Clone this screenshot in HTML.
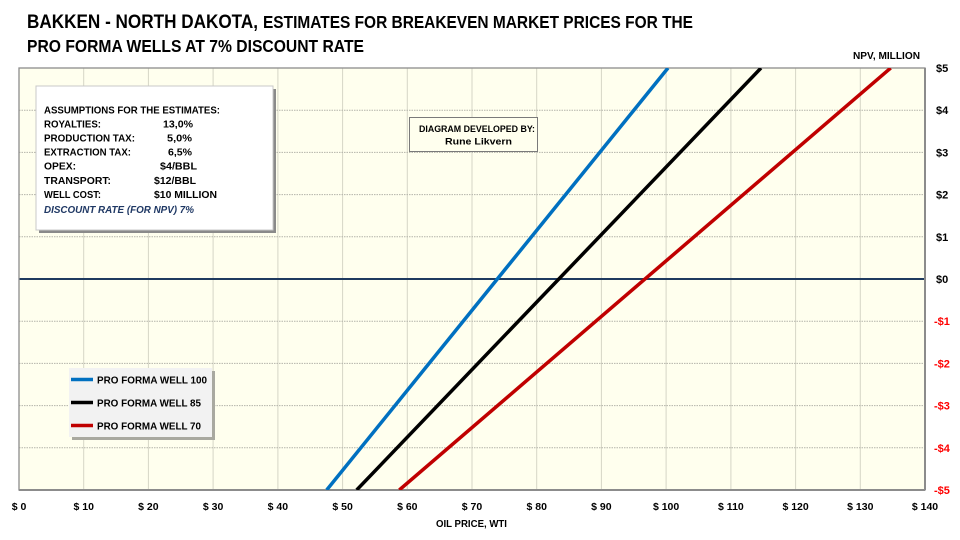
<!DOCTYPE html>
<html>
<head>
<meta charset="utf-8">
<style>
  html,body{margin:0;padding:0;background:#fff;}
  svg{display:block;}
  text{font-family:"Liberation Sans",Arial,sans-serif;font-weight:bold;}
</style>
</head>
<body>
<svg width="960" height="540" viewBox="0 0 960 540" xmlns="http://www.w3.org/2000/svg">
  <rect x="0" y="0" width="960" height="540" fill="#ffffff"/>
  <!-- Title -->
  <text x="27" y="28" font-size="19.5" fill="#000" textLength="231" lengthAdjust="spacingAndGlyphs">BAKKEN - NORTH DAKOTA,</text>
  <text x="263" y="28" font-size="17.5" fill="#000" textLength="430" lengthAdjust="spacingAndGlyphs">ESTIMATES FOR BREAKEVEN MARKET PRICES FOR THE</text>
  <text x="27" y="52" font-size="17.5" fill="#000" textLength="337" lengthAdjust="spacingAndGlyphs">PRO FORMA WELLS AT 7% DISCOUNT RATE</text>

  <!-- Plot area -->
  <rect x="19" y="68" width="906" height="422" fill="#ffffee"/>
  <!-- vertical grid -->
  <g stroke="#d6d6c6" stroke-width="1">
    <line x1="83.7" y1="68" x2="83.7" y2="490"/>
    <line x1="148.4" y1="68" x2="148.4" y2="490"/>
    <line x1="213.1" y1="68" x2="213.1" y2="490"/>
    <line x1="277.9" y1="68" x2="277.9" y2="490"/>
    <line x1="342.6" y1="68" x2="342.6" y2="490"/>
    <line x1="407.3" y1="68" x2="407.3" y2="490"/>
    <line x1="472" y1="68" x2="472" y2="490"/>
    <line x1="536.7" y1="68" x2="536.7" y2="490"/>
    <line x1="601.4" y1="68" x2="601.4" y2="490"/>
    <line x1="666.1" y1="68" x2="666.1" y2="490"/>
    <line x1="730.9" y1="68" x2="730.9" y2="490"/>
    <line x1="795.6" y1="68" x2="795.6" y2="490"/>
    <line x1="860.3" y1="68" x2="860.3" y2="490"/>
  </g>
  <!-- horizontal dotted grid -->
  <g stroke="#b4b4aa" stroke-width="1" stroke-dasharray="1.5,1">
    <line x1="19" y1="110.2" x2="925" y2="110.2"/>
    <line x1="19" y1="152.4" x2="925" y2="152.4"/>
    <line x1="19" y1="194.6" x2="925" y2="194.6"/>
    <line x1="19" y1="236.8" x2="925" y2="236.8"/>
    <line x1="19" y1="321.2" x2="925" y2="321.2"/>
    <line x1="19" y1="363.4" x2="925" y2="363.4"/>
    <line x1="19" y1="405.6" x2="925" y2="405.6"/>
    <line x1="19" y1="447.8" x2="925" y2="447.8"/>
  </g>
  <!-- zero line -->
  <line x1="19" y1="279" x2="925" y2="279" stroke="#1f3a5f" stroke-width="2"/>
  <!-- border -->
  <rect x="19" y="68" width="906" height="422" fill="none" stroke="#8c8c8c" stroke-width="1.3"/>
  <line x1="19" y1="490" x2="925" y2="490" stroke="#8c8c8c" stroke-width="2"/>
  <line x1="925" y1="68" x2="925" y2="490" stroke="#8c8c8c" stroke-width="2"/>

  <!-- series -->
  <g stroke-width="3.5" stroke-linecap="butt" fill="none" clip-path="url(#pc)">
    <line x1="326.7" y1="490" x2="668" y2="68" stroke="#0070c0"/>
    <line x1="356.7" y1="490" x2="761" y2="68" stroke="#000000"/>
    <line x1="399.3" y1="490" x2="890.7" y2="68" stroke="#c00000"/>
  </g>
  <defs>
    <clipPath id="pc"><rect x="19" y="68" width="906" height="422"/></clipPath>
  </defs>

  <!-- Assumptions box -->
  <rect x="39" y="89" width="237" height="144" fill="#8a8a8a"/>
  <rect x="36" y="86" width="237" height="144" fill="#ffffff" stroke="#c8c8c8" stroke-width="1"/>
  <g font-size="10" fill="#000">
    <text x="44" y="113.5" textLength="176" lengthAdjust="spacingAndGlyphs">ASSUMPTIONS FOR THE ESTIMATES:</text>
    <text x="44" y="127.5" textLength="57" lengthAdjust="spacingAndGlyphs">ROYALTIES:</text>
    <text x="163" y="127.5" textLength="30" lengthAdjust="spacingAndGlyphs">13,0%</text>
    <text x="44" y="141.5" textLength="91" lengthAdjust="spacingAndGlyphs">PRODUCTION TAX:</text>
    <text x="167" y="141.5" textLength="25" lengthAdjust="spacingAndGlyphs">5,0%</text>
    <text x="44" y="155.5" textLength="87" lengthAdjust="spacingAndGlyphs">EXTRACTION TAX:</text>
    <text x="168" y="155.5" textLength="24" lengthAdjust="spacingAndGlyphs">6,5%</text>
    <text x="44" y="169.5" textLength="32" lengthAdjust="spacingAndGlyphs">OPEX:</text>
    <text x="160" y="169.5" textLength="37" lengthAdjust="spacingAndGlyphs">$4/BBL</text>
    <text x="44" y="184" textLength="67" lengthAdjust="spacingAndGlyphs">TRANSPORT:</text>
    <text x="154" y="184" textLength="42" lengthAdjust="spacingAndGlyphs">$12/BBL</text>
    <text x="44" y="198" textLength="57" lengthAdjust="spacingAndGlyphs">WELL COST:</text>
    <text x="154" y="198" textLength="63" lengthAdjust="spacingAndGlyphs">$10 MILLION</text>
    <text x="44" y="213" fill="#1f3864" font-style="italic" textLength="150" lengthAdjust="spacingAndGlyphs">DISCOUNT RATE (FOR NPV) 7%</text>
  </g>

  <!-- Diagram developed box -->
  <rect x="409.5" y="117.5" width="128" height="34" fill="#ffffee" stroke="#7a7a7a" stroke-width="1"/>
  <text x="419" y="132" font-size="9.5" fill="#000" textLength="116" lengthAdjust="spacingAndGlyphs">DIAGRAM DEVELOPED BY:</text>
  <text x="445" y="144.5" font-size="9.5" fill="#000" textLength="67" lengthAdjust="spacingAndGlyphs">Rune Likvern</text>

  <!-- Legend -->
  <rect x="72" y="371" width="143" height="69" fill="#a9a9a0"/>
  <rect x="69" y="368" width="143" height="69" fill="#f2f2f2"/>
  <line x1="71" y1="379.5" x2="93" y2="379.5" stroke="#0070c0" stroke-width="3.5"/>
  <line x1="71" y1="402.5" x2="93" y2="402.5" stroke="#000" stroke-width="3.5"/>
  <line x1="71" y1="425.5" x2="93" y2="425.5" stroke="#c00000" stroke-width="3.5"/>
  <g font-size="10.5" fill="#000">
    <text x="97" y="383.5" textLength="110" lengthAdjust="spacingAndGlyphs">PRO FORMA WELL 100</text>
    <text x="97" y="406.5" textLength="104" lengthAdjust="spacingAndGlyphs">PRO FORMA WELL 85</text>
    <text x="97" y="429.5" textLength="104" lengthAdjust="spacingAndGlyphs">PRO FORMA WELL 70</text>
  </g>

  <!-- Y axis labels -->
  <text x="920" y="59" font-size="10" fill="#000" text-anchor="end" textLength="67" lengthAdjust="spacingAndGlyphs">NPV, MILLION</text>
  <g font-size="11" fill="#000">
    <text x="936" y="72">$5</text>
    <text x="936" y="114.2">$4</text>
    <text x="936" y="156.4">$3</text>
    <text x="936" y="198.6">$2</text>
    <text x="936" y="240.8">$1</text>
    <text x="936" y="283">$0</text>
  </g>
  <g font-size="11" fill="#ff0000">
    <text x="934" y="325.2">-$1</text>
    <text x="934" y="367.4">-$2</text>
    <text x="934" y="409.6">-$3</text>
    <text x="934" y="451.8">-$4</text>
    <text x="934" y="494">-$5</text>
  </g>

  <!-- X axis labels -->
  <g font-size="10.5" fill="#000" text-anchor="middle">
    <text x="19" y="510">$ 0</text>
    <text x="83.7" y="510">$ 10</text>
    <text x="148.4" y="510">$ 20</text>
    <text x="213.1" y="510">$ 30</text>
    <text x="277.9" y="510">$ 40</text>
    <text x="342.6" y="510">$ 50</text>
    <text x="407.3" y="510">$ 60</text>
    <text x="472" y="510">$ 70</text>
    <text x="536.7" y="510">$ 80</text>
    <text x="601.4" y="510">$ 90</text>
    <text x="666.1" y="510">$ 100</text>
    <text x="730.9" y="510">$ 110</text>
    <text x="795.6" y="510">$ 120</text>
    <text x="860.3" y="510">$ 130</text>
    <text x="925" y="510">$ 140</text>
  </g>
  <text x="436" y="527" font-size="10" fill="#000" textLength="71" lengthAdjust="spacingAndGlyphs">OIL PRICE, WTI</text>
</svg>
</body>
</html>
